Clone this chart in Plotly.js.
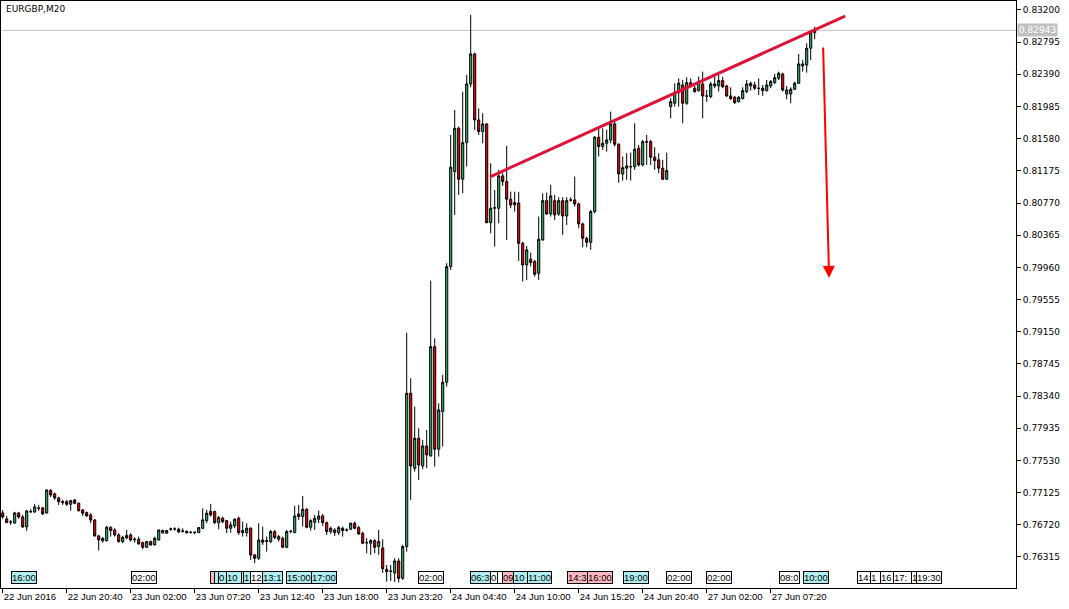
<!DOCTYPE html>
<html><head><meta charset="utf-8">
<script src="https://cdn.plot.ly/plotly-3.0.1.min.js"></script>
<style>html,body{margin:0;padding:0;background:#fff;}#chart{width:1069px;height:609px;}</style>
</head><body><div id="chart"></div>
<script>
const symbolTitle = 'EURGBP,M20';
const openP = [
.76869,.76794,.76756,.76743,.76869,.76819,.76693,.76882,.76882,.76932,.76932,.76869,.77150,.77108,.77058,.77011,.77011,.76978,.77033,.76991,
.76907,.76873,.76844,.76781,.76580,.76517,.76521,.76689,.76655,.76592,.76508,.76554,.76592,.76538,.76538,.76495,.76437,.76508,.76466,.76529,
.76617,.76613,.76664,.76668,.76664,.76642,.76617,.76626,.76621,.76621,.76676,.76772,.76886,.76886,.76747,.76802,.76772,.76676,.76706,.76802,
.76621,.76621,.76676,.76340,.76298,.76529,.76508,.76508,.76634,.76538,.76550,.76437,.76634,.76621,.76857,.76823,.76916,.76689,.76752,.76789,
.76831,.76747,.76634,.76655,.76621,.76676,.76655,.76664,.76739,.76684,.76613,.76495,.76487,.76521,.76445,.76428,.76159,.76138,.76113,.76264,
.76046,.76445,.78375,.77431,.77809,.77460,.77712,.77586,.78962,.77671,.78144,.78514,.79970,.81166,.81711,.81070,.81530,.82269,.82647,.81816,
.81669,.81766,.80523,.80704,.80704,.81111,.81040,.80818,.80746,.80770,.80263,.79991,.80063,.80033,.79886,.80305,.80800,.80633,.80800,.80633,
.80800,.80607,.80809,.80809,.80759,.80507,.80326,.80276,.80662,.81598,.81480,.81522,.81564,.81766,.81510,.81136,.81208,.81228,.81228,.81459,
.81250,.81535,.81543,.81347,.81313,.81208,.81070,.81984,.82026,.82159,.82256,.82026,.82285,.82215,.82185,.82269,.82118,.82109,.82244,.82244,
.82311,.82244,.82118,.82101,.82047,.82084,.82172,.82244,.82256,.82215,.82215,.82185,.82244,.82285,.82340,.82395,.82143,.82143,.82202,.82277,
.82495,.82508,.82718,.82914];
const highP = [
.76907,.76831,.76781,.76882,.76882,.76844,.76907,.76920,.76983,.76970,.76945,.77164,.77171,.77124,.77074,.77033,.77033,.77033,.77041,.76999,
.76916,.76886,.76865,.76789,.76592,.76567,.76706,.76697,.76676,.76613,.76580,.76655,.76613,.76563,.76571,.76508,.76508,.76521,.76571,.76655,
.76655,.76655,.76684,.76689,.76684,.76676,.76647,.76638,.76634,.76689,.76928,.76907,.76983,.76898,.76831,.76823,.76781,.76760,.76802,.76823,
.76760,.76739,.76689,.76353,.76739,.76697,.76571,.76655,.76655,.76592,.76571,.76655,.76655,.76957,.76970,.77083,.76928,.76789,.76844,.76898,
.76857,.76760,.76697,.76676,.76706,.76697,.76676,.76747,.76760,.76706,.76634,.76550,.76538,.76538,.76655,.76538,.76214,.76214,.76298,.76298,
.76466,.79138,.78564,.78207,.77934,.77788,.77914,.79793,.79067,.78249,.78606,.80012,.81627,.81942,.81732,.82172,.82382,.83137,.82663,.81963,
.81900,.81774,.81271,.80935,.81187,.81145,.81488,.80914,.80914,.80910,.80284,.80229,.80146,.80054,.80599,.80893,.80901,.80998,.80872,.80843,
.80843,.80843,.80843,.81103,.80775,.80523,.80347,.80683,.81614,.81711,.81711,.81690,.81921,.81816,.81522,.81355,.81397,.81405,.81774,.81501,
.81564,.81627,.81564,.81472,.81397,.81313,.81405,.82089,.82277,.82340,.82319,.82353,.82340,.82244,.82361,.82424,.82193,.82298,.82361,.82382,
.82361,.82256,.82227,.82118,.82118,.82227,.82319,.82298,.82298,.82340,.82256,.82319,.82319,.82395,.82424,.82411,.82244,.82227,.82298,.82647,
.82571,.82781,.82949,.82990];
const lowP = [
.76794,.76743,.76718,.76731,.76794,.76680,.76642,.76869,.76869,.76894,.76844,.76860,.77070,.77033,.76970,.76970,.76957,.76898,.76978,.76886,
.76831,.76823,.76739,.76571,.76395,.76495,.76508,.76571,.76571,.76495,.76487,.76538,.76508,.76495,.76470,.76412,.76428,.76458,.76460,.76520,
.76613,.76611,.76642,.76647,.76613,.76621,.76613,.76608,.76600,.76617,.76664,.76739,.76823,.76731,.76664,.76739,.76613,.76621,.76676,.76592,
.76571,.76571,.76277,.76235,.76277,.76466,.76382,.76487,.76538,.76508,.76424,.76424,.76613,.76613,.76781,.76697,.76676,.76647,.76655,.76739,
.76706,.76592,.76605,.76580,.76592,.76571,.76634,.76655,.76664,.76592,.76475,.76361,.76340,.76361,.76340,.76113,.76004,.76013,.76000,.75994,
.76026,.76382,.77033,.77389,.77284,.77419,.77431,.77578,.77452,.77578,.77704,.78459,.79928,.80620,.80872,.80893,.81229,.82227,.81690,.81627,
.81522,.80515,.80389,.80221,.80515,.80985,.80305,.80704,.80662,.80041,.79781,.79802,.79970,.79844,.79802,.80296,.80620,.80599,.80557,.80607,
.80368,.80494,.80788,.80725,.80452,.80213,.80213,.80180,.80641,.81355,.81438,.81417,.81522,.81480,.81027,.81052,.81061,.81052,.81187,.81229,
.81229,.81250,.81250,.81187,.81145,.81061,.81061,.81837,.81984,.81984,.81774,.82005,.82227,.82159,.82172,.81837,.82046,.82089,.82215,.82172,
.82215,.82101,.82068,.82017,.82034,.82076,.82152,.82185,.82193,.82130,.82118,.82172,.82215,.82269,.82319,.82172,.82076,.82026,.82193,.82269,
.82424,.82411,.82571,.82831];
const closeP = [
.76819,.76747,.76752,.76869,.76819,.76693,.76894,.76886,.76945,.76926,.76857,.77158,.77095,.77058,.77011,.76999,.76978,.77024,.76991,.76898,
.76865,.76831,.76781,.76580,.76529,.76548,.76689,.76647,.76592,.76508,.76563,.76586,.76529,.76533,.76479,.76437,.76508,.76466,.76550,.76655,
.76651,.76647,.76668,.76666,.76630,.76640,.76638,.76624,.76626,.76684,.76781,.76865,.76844,.76747,.76810,.76760,.76676,.76718,.76789,.76621,
.76647,.76676,.76340,.76298,.76529,.76500,.76521,.76634,.76558,.76571,.76437,.76634,.76638,.76831,.76823,.76916,.76689,.76772,.76802,.76831,
.76747,.76634,.76676,.76621,.76684,.76647,.76653,.76739,.76676,.76605,.76487,.76493,.76521,.76437,.76508,.76167,.76130,.76134,.76264,.76046,
.76445,.78375,.77460,.77809,.77473,.77712,.77599,.78962,.77671,.78165,.78514,.79970,.81221,.81711,.81070,.81530,.82269,.82647,.81816,.81669,
.81766,.80523,.80704,.80712,.81111,.81040,.80818,.80746,.80775,.80263,.79991,.80180,.80020,.79874,.80314,.80800,.80633,.80859,.80620,.80800,
.80607,.80800,.80806,.80759,.80507,.80326,.80276,.80662,.81598,.81480,.81522,.81564,.81766,.81510,.81136,.81216,.81237,.81226,.81447,.81250,
.81543,.81543,.81347,.81304,.81208,.81070,.81178,.82047,.82159,.82278,.82026,.82285,.82244,.82172,.82298,.82118,.82116,.82269,.82269,.82311,
.82235,.82118,.82084,.82034,.82101,.82185,.82269,.82277,.82215,.82213,.82185,.82256,.82298,.82348,.82403,.82193,.82193,.82202,.82277,.82521,
.82521,.82718,.82914,.82943];
const xTickIdx = [0,16,32,48,64,80,96,112,128,144,160,176,192];
const xTickText = ['22 Jun 2016','22 Jun 20:40','23 Jun 02:00','23 Jun 07:20','23 Jun 12:40','23 Jun 18:00','23 Jun 23:20','24 Jun 04:40','24 Jun 10:00','24 Jun 15:20','24 Jun 20:40','27 Jun 02:00','27 Jun 07:20'];
const yTickVals = [0.76315,0.76720,0.77125,0.77530,0.77935,0.78340,0.78745,0.79150,0.79555,0.79960,0.80365,0.80770,0.81175,0.81580,0.81985,0.82390,0.82795,0.83200];
const currentPrice = 0.82943;
const trendX = [121.8, 210.6];
const trendY = [0.81099, 0.83124];
const arrowFrom = [205.1, 0.82747];
const arrowTo = [206.6, 0.79827];
// calendar event markers (bar position, visible label, kind)
const evIdx = [2,32,51.8,52.7,53.8,55.8,59.6,60,61.8,64.8,70.8,77,103.8,116.8,121.8,123.6,124.8,127.6,131,141,146,155,165.8,175.8,194,200,213.6,216.8,219.3,222.5,227,228.3];
const evText = ['16:00','02:00','','','0','10','','1','12','13:1','15:00','17:00','02:00','06:3','0','','09','10','11:00','14:3','16:00','19:00','02:00','02:00','08:0','10:00','14:','1','16','17:','1','19:30'];
const evKind = ['c','w','p','c','c','c','c','c','w','c','c','c','w','c','w','w','p','c','c','p','p','c','w','w','w','c','w','w','w','w','w','w'];

const xIdx = openP.map((_, i) => i);
const kindColor = {c:'#aeeef0', p:'#ffb6c1', w:'#ffffff'};
const fontFam = 'DejaVu Sans, Liberation Sans, sans-serif';
const narrowFam = 'Liberation Sans, Arial, sans-serif';
const pxPerBar = 4;

const traces = [
  {type:'candlestick', x:xIdx, open:openP, high:highP, low:lowP, close:closeP,
   increasing:{line:{color:'#000000', width:1}, fillcolor:'#3cb371'},
   decreasing:{line:{color:'#000000', width:1}, fillcolor:'#ff0000'},
   whiskerwidth:0, hoverinfo:'skip', showlegend:false},
  {type:'scatter', mode:'lines', x:trendX, y:trendY, line:{color:'#dc143c', width:3}, hoverinfo:'skip', showlegend:false}
];

const annotations = [
  {xref:'paper', yref:'paper', x:0.003, y:0.998, xanchor:'left', yanchor:'top', text:symbolTitle, showarrow:false, font:{family:fontFam, size:9, color:'#000'}},
  {xref:'paper', yref:'y', x:1.001, y:currentPrice, xanchor:'left', yanchor:'middle', text:currentPrice.toFixed(5), showarrow:false, bgcolor:'#c0c0c0', borderpad:1, font:{family:fontFam, size:9, color:'#ffffff'}},
  {xref:'x', yref:'y', x:arrowTo[0], y:arrowTo[1], axref:'x', ayref:'y', ax:arrowFrom[0], ay:arrowFrom[1], showarrow:true, arrowhead:2, arrowsize:1.2, arrowwidth:2, arrowcolor:'#ff0000', text:''}
];
evIdx.forEach((ix, k) => {
  const a = {xref:'x', yref:'paper', x:ix, y:0.0179, xanchor:'left', yanchor:'middle', text:evText[k] || ' ', showarrow:false, align:'left',
    bgcolor:kindColor[evKind[k]], bordercolor:'#000', borderwidth:1, borderpad:0, height:11, font:{family:narrowFam, size:9.5, color:'#000'}};
  if (k + 1 < evIdx.length && (evIdx[k + 1] - ix) < 6) a.width = Math.max(1, (evIdx[k + 1] - ix) * pxPerBar - 1);
  annotations.push(a);
});

const layout = {
  width:1069, height:609, margin:{l:1, r:53, t:1, b:21},
  paper_bgcolor:'#ffffff', plot_bgcolor:'#ffffff', showlegend:false, boxgap:0.25,
  xaxis:{range:[-0.425, 253.325], tickvals:xTickIdx, ticktext:xTickText, ticks:'outside', ticklen:4, tickcolor:'#000', tickwidth:1, tickangle:0,
    showgrid:false, zeroline:false, showline:true, linecolor:'#000', linewidth:1, mirror:true, ticklabelposition:'outside right',
    tickfont:{family:narrowFam, size:9.5, color:'#000'}, rangeslider:{visible:false}, fixedrange:true},
  yaxis:{side:'right', range:[0.75924, 0.83313], tickvals:yTickVals, ticktext:yTickVals.map(v => v.toFixed(5)), ticks:'outside', ticklen:4,
    tickcolor:'#000', showgrid:false, zeroline:false, showline:true, linecolor:'#000', linewidth:1, mirror:true,
    tickfont:{family:fontFam, size:9, color:'#000'}, fixedrange:true},
  shapes:[{type:'line', xref:'paper', yref:'y', x0:0, x1:1, y0:currentPrice, y1:currentPrice, line:{color:'#c0c0c0', width:1}, layer:'below'}],
  annotations:annotations
};
Plotly.newPlot('chart', traces, layout, {displayModeBar:false, staticPlot:true});
</script></body></html>
